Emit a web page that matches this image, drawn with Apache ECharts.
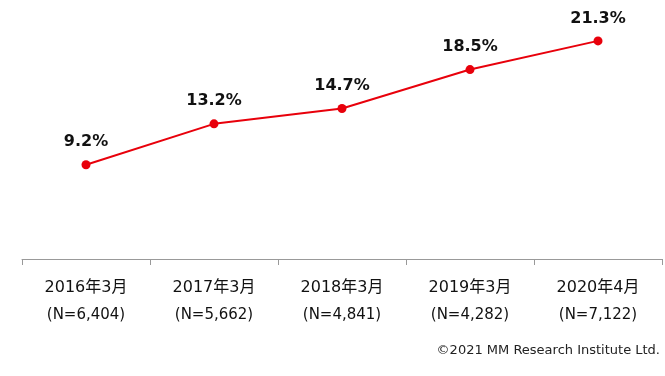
<!DOCTYPE html>
<html>
<head>
<meta charset="utf-8">
<script src="https://cdn.jsdelivr.net/npm/echarts@6/dist/echarts.min.js"></script>
<style>
  html, body { margin: 0; padding: 0; background: #fff; }
  #chart { width: 665px; height: 376px; }
</style>
</head>
<body>
<div id="chart"></div>
<script>
const periods = ["2016年3月", "2017年3月", "2018年3月", "2019年3月", "2020年4月"];
const sampleSizes = ["6,404", "5,662", "4,841", "4,282", "7,122"];
const rates = [9.2, 13.2, 14.7, 18.5, 21.3];

const font = "'DejaVu Sans', 'Noto Sans CJK JP', sans-serif";
const myChart = echarts.init(document.getElementById("chart"));

myChart.setOption({
  backgroundColor: "#fff",
  animation: false,
  title: {
    text: "©2021 MM Research Institute Ltd.",
    right: 0,
    top: 339,
    textStyle: { fontFamily: font, fontSize: 13, fontWeight: "normal", color: "#222" }
  },
  grid: { left: 22, right: 3, top: 3, bottom: 117 },
  xAxis: {
    type: "category",
    data: periods,
    axisLine: { lineStyle: { color: "#999", width: 1 } },
    axisTick: { show: true, length: 6, lineStyle: { color: "#999" } },
    axisLabel: {
      margin: 15,
      formatter(val, i) {
        return "{a|" + val + "}\n{b|(N=" + sampleSizes[i] + ")}";
      },
      rich: {
        a: { fontFamily: font, fontSize: 16, color: "#111", lineHeight: 27 },
        b: { fontFamily: font, fontSize: 15, color: "#111", lineHeight: 28 }
      }
    }
  },
  yAxis: {
    type: "value",
    min: 0,
    max: 25,
    show: false,
    splitLine: { show: false }
  },
  series: [
    {
      type: "line",
      data: rates,
      symbol: "circle",
      symbolSize: 9,
      itemStyle: { color: "#e8000b" },
      lineStyle: { color: "#e8000b", width: 2 },
      label: {
        show: true,
        position: "top",
        distance: 10,
        formatter: (p) => p.value.toFixed(1) + "%",
        fontFamily: font,
        fontSize: 16,
        fontWeight: "bold",
        color: "#111"
      }
    }
  ]
});
</script>
</body>
</html>
